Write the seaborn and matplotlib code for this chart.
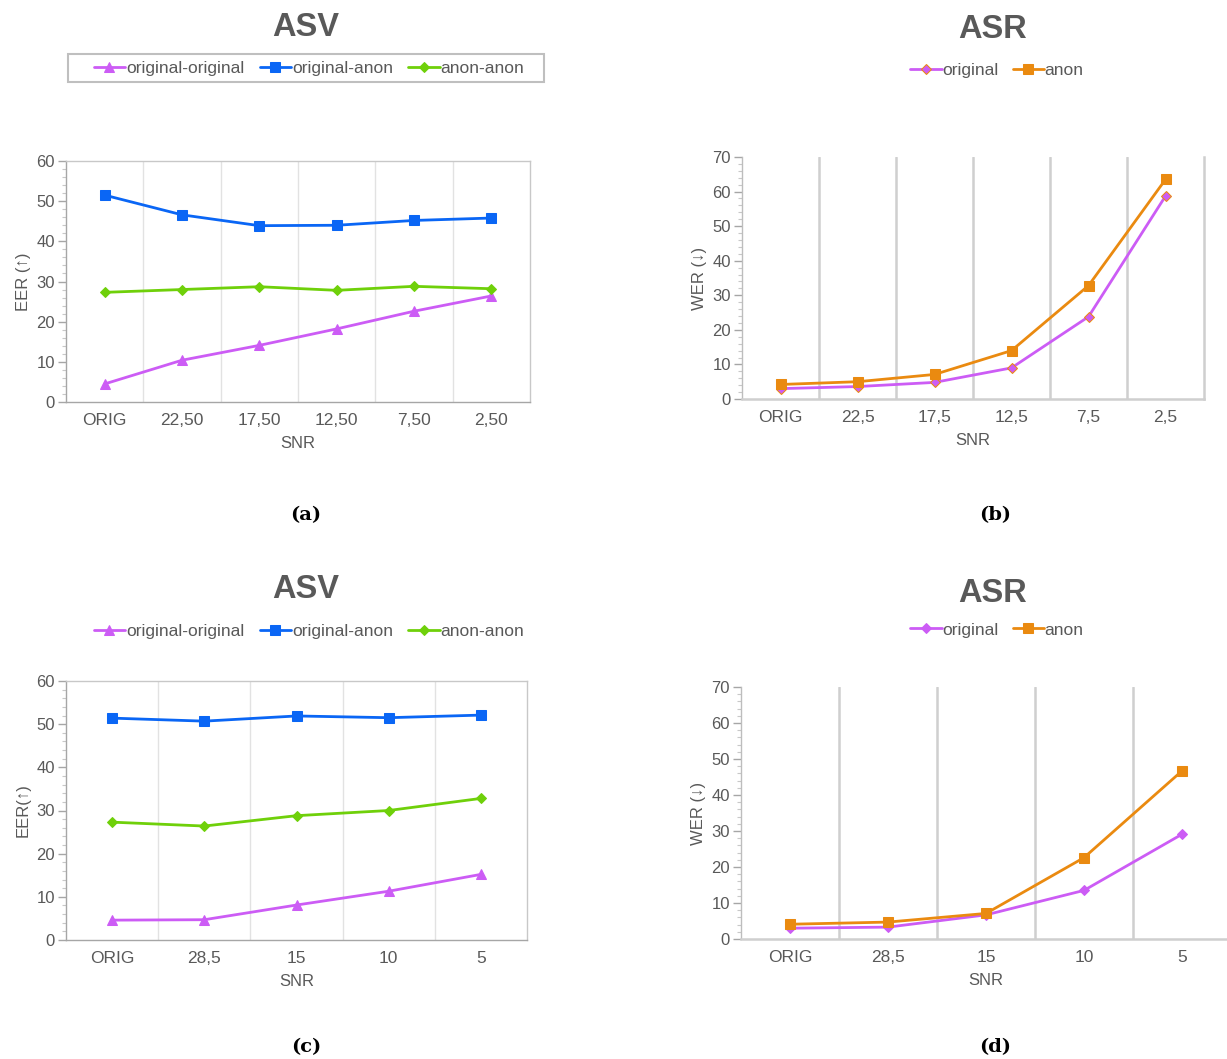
import seaborn as sns
import matplotlib.pyplot as plt
import numpy as np
from matplotlib.ticker import MultipleLocator
from matplotlib.patches import Rectangle

sns.set_style("white")
plt.rcParams['font.family'] = ['Liberation Sans', 'DejaVu Sans']

# Data
snr_a = ['ORIG', '22,50', '17,50', '12,50', '7,50', '2,50']
asv_a_orig_orig = [4.5, 10.4, 14.1, 18.2, 22.6, 26.4]
asv_a_orig_anon = [51.5, 46.6, 43.9, 44.0, 45.2, 45.8]
asv_a_anon_anon = [27.3, 28.0, 28.7, 27.8, 28.8, 28.2]

snr_b = ['ORIG', '22,5', '17,5', '12,5', '7,5', '2,5']
asr_b_orig = [3.0, 3.6, 4.8, 9.0, 23.8, 58.7]
asr_b_anon = [4.2, 5.0, 7.1, 14.0, 32.8, 63.5]

snr_c = ['ORIG', '28,5', '15', '10', '5']
asv_c_orig_orig = [4.6, 4.7, 8.1, 11.3, 15.2]
asv_c_orig_anon = [51.4, 50.7, 51.9, 51.5, 52.1]
asv_c_anon_anon = [27.3, 26.4, 28.8, 30.0, 32.8]

snr_d = ['ORIG', '28,5', '15', '10', '5']
asr_d_orig = [3.0, 3.3, 6.7, 13.5, 29.1]
asr_d_anon = [4.1, 4.7, 7.1, 22.6, 46.7]

PINK = '#cc5cf5'
BLUE = '#0a66f5'
GREEN = '#6fd00a'
ORANGE = '#ea8a10'
TXT = '#595959'

W, H = 1227, 1059
fig = plt.figure(figsize=(W / 100, H / 100), dpi=100)


def box(l, t, r, b):
    return [l / W, 1 - b / H, (r - l) / W, (b - t) / H]


def style_axis(ax, cats, ymax, ylabel, kind):
    n = len(cats)
    ax.set_xlim(-0.5, n - 0.5)
    ax.set_ylim(0, ymax)
    ax.yaxis.set_major_locator(MultipleLocator(10))
    ax.yaxis.set_minor_locator(MultipleLocator(2))
    ax.tick_params(axis='y', which='major', length=6, width=1, color='#a6a6a6',
                   labelsize=12, labelcolor=TXT, pad=2, left=True)
    ax.tick_params(axis='y', which='minor', length=3, width=0.8, color='#c8c8c8', left=True)
    ax.tick_params(axis='x', length=0, labelsize=12.5, labelcolor=TXT, pad=8)
    ax.set_xlabel('SNR', fontsize=12, color=TXT, labelpad=6)
    ax.set_ylabel(ylabel, fontsize=12, color=TXT, labelpad=4)
    if kind == 'asv':
        for k in range(n - 1):
            ax.axvline(k + 0.5, color='#e2e2e2', lw=1, zorder=0)
        for s in ax.spines.values():
            s.set_color('#c8c8c8')
            s.set_linewidth(1)
        ax.spines['left'].set_color('#a6a6a6')
        ax.spines['bottom'].set_color('#a6a6a6')
    else:
        for k in range(n - 1):
            ax.axvline(k + 0.5, color='#cfcfcf', lw=1.8, zorder=0)
        ax.spines['top'].set_visible(False)
        for s in ['left', 'bottom', 'right']:
            ax.spines[s].set_color('#cfcfcf')
            ax.spines[s].set_linewidth(1.8)
        ax.spines['left'].set_linewidth(1)
        ax.spines['left'].set_color('#bdbdbd')


def asv_panel(rect, cats, oo, oa, aa, ylabel, legend_y, framed, title_y):
    ax = fig.add_axes(rect)
    sns.lineplot(x=cats, y=oo, ax=ax, sort=False, color=PINK, marker='^', markersize=7,
                 markeredgecolor=PINK, linewidth=2, label='original-original', legend=False)
    sns.lineplot(x=cats, y=oa, ax=ax, sort=False, color=BLUE, marker='s', markersize=7,
                 markeredgecolor=BLUE, linewidth=2, label='original-anon', legend=False)
    sns.lineplot(x=cats, y=aa, ax=ax, sort=False, color=GREEN, marker='D', markersize=5,
                 markeredgecolor=GREEN, linewidth=2, label='anon-anon', legend=False)
    style_axis(ax, cats, 60, ylabel, 'asv')
    handles, labels = ax.get_legend_handles_labels()
    leg = fig.legend(handles, labels, loc='center', ncol=3,
                     bbox_to_anchor=(309 / W, 1 - legend_y / H),
                     frameon=False, handlelength=1.8, handletextpad=0.05,
                     columnspacing=0.9, fontsize=12.5)
    for t in leg.get_texts():
        t.set_color(TXT)
    if framed:
        fig.add_artist(Rectangle((68 / W, 1 - (legend_y + 14) / H), 476 / W, 28 / H,
                                 transform=fig.transFigure, fill=False,
                                 edgecolor='#bfbfbf', linewidth=1.5))
    fig.text(306 / W, 1 - title_y / H, 'ASV', ha='center', va='center',
             fontsize=23.5, fontweight='bold', color=TXT)
    return ax


def asr_panel(rect, cats, orig, anon, legend_y, title_y, edge):
    ax = fig.add_axes(rect)
    sns.lineplot(x=cats, y=orig, ax=ax, sort=False, color=PINK, marker='D', markersize=5,
                 markeredgecolor=edge, linewidth=2, label='original', legend=False)
    sns.lineplot(x=cats, y=anon, ax=ax, sort=False, color=ORANGE, marker='s', markersize=7,
                 markeredgecolor=ORANGE, linewidth=2, label='anon', legend=False)
    style_axis(ax, cats, 70, 'WER (↓)', 'asr')
    handles, labels = ax.get_legend_handles_labels()
    leg = fig.legend(handles, labels, loc='center', ncol=2,
                     bbox_to_anchor=(997 / W, 1 - legend_y / H),
                     frameon=False, handlelength=1.8, handletextpad=0.05,
                     columnspacing=0.8, fontsize=12.5)
    for t in leg.get_texts():
        t.set_color(TXT)
    fig.text(993 / W, 1 - title_y / H, 'ASR', ha='center', va='center',
             fontsize=23.5, fontweight='bold', color=TXT)
    return ax


asv_panel(box(66, 161, 530, 402), snr_a, asv_a_orig_orig, asv_a_orig_anon,
          asv_a_anon_anon, 'EER (↑)', 68, True, 27)
asr_panel(box(742, 157, 1204, 399), snr_b, asr_b_orig, asr_b_anon, 70, 29, ORANGE)
asv_panel(box(66, 681, 527, 940), snr_c, asv_c_orig_orig, asv_c_orig_anon,
          asv_c_anon_anon, 'EER(↑)', 631, False, 590)
asr_panel(box(741, 687, 1231, 939), snr_d, asr_d_orig, asr_d_anon, 630, 593, PINK)

# sub-figure captions
for x, y, s in [(306, 515, '(a)'), (995, 515, '(b)'), (306, 1047, '(c)'), (995, 1047, '(d)')]:
    fig.text(x / W, 1 - y / H, s, ha='center', va='center', fontsize=14,
             fontweight='bold', family='DejaVu Serif', color='black')

fig.savefig('out.png', dpi=100)
